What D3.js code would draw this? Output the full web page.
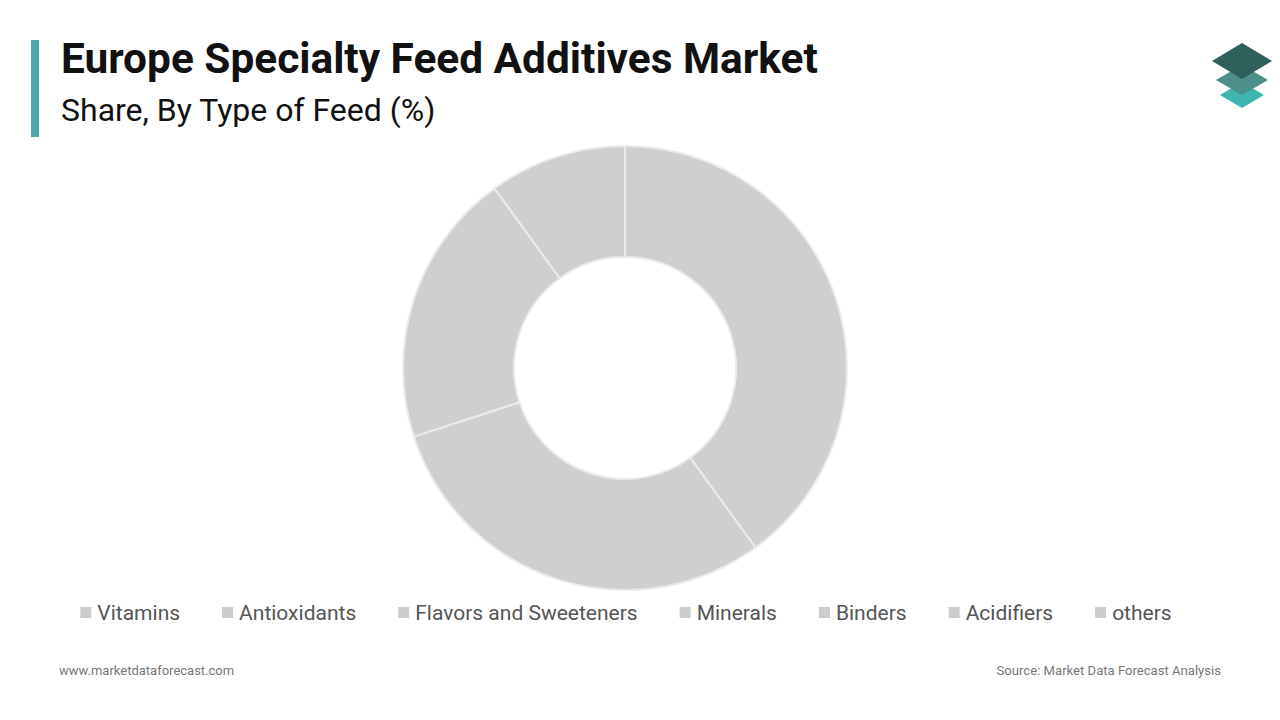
<!DOCTYPE html>
<html>
<head>
<meta charset="utf-8">
<script src="https://cdn.jsdelivr.net/npm/d3@7"></script>
<style>
  html, body { margin: 0; padding: 0; background: #fff; }
  svg { display: block; font-family: Roboto, "Noto Sans", sans-serif; }
</style>
</head>
<body>
<svg id="chart" width="1280" height="720"></svg>
<script>
// data
const categories = ['Vitamins', 'Antioxidants', 'Flavors and Sweeteners', 'Minerals', 'Binders', 'Acidifiers', 'others'];
const shares = [40, 30, 20, 10, 0, 0, 0];
const sliceColor = '#d0cfcf';

const svg = d3.select('#chart');

// header
svg.append('rect').attr('x', 31).attr('y', 40).attr('width', 8).attr('height', 97).attr('fill', '#4aa9a8');
svg.append('text').attr('x', 61).attr('y', 73)
  .attr('font-size', 42.4).attr('font-weight', 700).attr('fill', '#111')
  .text('Europe Specialty Feed Additives Market');
svg.append('text').attr('x', 61).attr('y', 121)
  .attr('font-size', 32).attr('fill', '#111')
  .text('Share, By Type of Feed (%)');

// logo
const logo = svg.append('g').attr('transform', 'translate(1242,0)');
const diamond = (cy, w, h) => `M0,${cy - h / 2} L${w / 2},${cy} L0,${cy + h / 2} L${-w / 2},${cy} Z`;
logo.append('path').attr('d', diamond(95, 44, 26)).attr('fill', '#40b5af');
logo.append('path').attr('d', diamond(80, 52, 30)).attr('fill', '#4d8f89');
logo.append('path').attr('d', diamond(61, 60, 36)).attr('fill', '#2e5f5a');

// donut
const cx = 625, cy = 368;
const outerR = 222, innerR = 111;
const pie = d3.pie().sort(null).value(d => d);
const arc = d3.arc().innerRadius(innerR).outerRadius(outerR);
const donut = svg.append('g').attr('transform', `translate(${cx},${cy})`);
donut.selectAll('path')
  .data(pie(shares).filter(d => d.value > 0))
  .enter()
  .append('path')
  .attr('d', arc)
  .attr('fill', sliceColor)
  .attr('stroke', '#ebebeb')
  .attr('stroke-width', 2);

// legend
const legend = svg.append('g');
const legendY = 613;
const gap = 42;
const items = legend.selectAll('g.item')
  .data(categories)
  .enter()
  .append('g')
  .attr('class', 'item');
items.append('rect')
  .attr('width', 11).attr('height', 11).attr('y', legendY - 6)
  .attr('fill', '#cccccc');
items.append('text')
  .attr('x', 17).attr('y', legendY + 7)
  .attr('font-size', 21).attr('fill', '#555')
  .text(d => d);
let offsets = [];
let pos = 0;
items.each(function () {
  offsets.push(pos);
  pos += this.getBBox().width + gap;
});
const total = pos - gap;
const startX = 626 - total / 2;
items.attr('transform', (d, i) => `translate(${startX + offsets[i]},0)`);

// footer
svg.append('text').attr('x', 59).attr('y', 675)
  .attr('font-size', 13).attr('fill', '#777')
  .text('www.marketdataforecast.com');
svg.append('text').attr('x', 1221).attr('y', 675)
  .attr('font-size', 13.1).attr('fill', '#777').attr('text-anchor', 'end')
  .text('Source: Market Data Forecast Analysis');
</script>
</body>
</html>
